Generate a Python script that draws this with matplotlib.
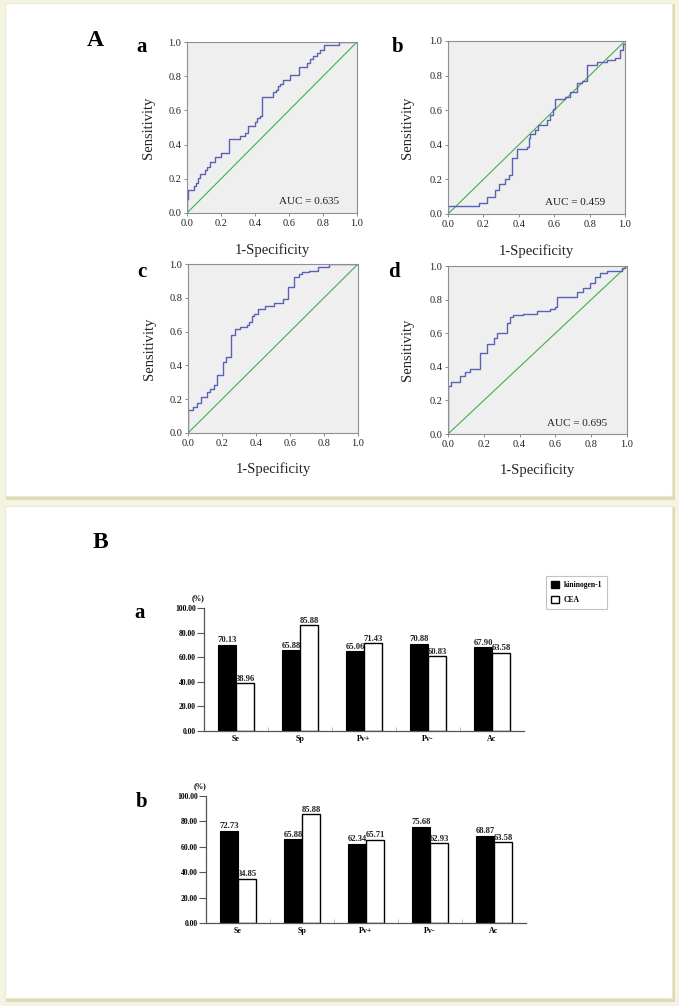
import matplotlib
matplotlib.use('Agg')
import matplotlib.pyplot as plt
from matplotlib.patches import Rectangle, Patch

plt.rcParams['font.family'] = ['Liberation Serif', 'DejaVu Serif']

# ---------------- data ----------------
roc_a_fpr = [0, 0, 0.006, 0.043, 0.055, 0.065, 0.078, 0.108, 0.118, 0.137,
             0.167, 0.2, 0.245, 0.314, 0.343, 0.359, 0.402, 0.412, 0.427, 0.443,
             0.506, 0.525, 0.535, 0.545, 0.565, 0.604, 0.657, 0.706, 0.722, 0.741,
             0.765, 0.784, 0.804, 0.892, 1.0]
roc_a_tpr = [0, 0.084, 0.137, 0.159, 0.178, 0.202, 0.227, 0.25, 0.27, 0.299,
             0.329, 0.352, 0.43, 0.452, 0.466, 0.509, 0.534, 0.558, 0.568, 0.677,
             0.705, 0.72, 0.74, 0.753, 0.779, 0.808, 0.853, 0.877, 0.9, 0.92,
             0.935, 0.955, 0.98, 1.0, 1.0]

roc_b_fpr = [0, 0, 0.173, 0.22, 0.267, 0.29, 0.323, 0.342, 0.361, 0.389,
             0.445, 0.455, 0.464, 0.489, 0.511, 0.558, 0.577, 0.596, 0.605, 0.662,
             0.69, 0.727, 0.756, 0.784, 0.84, 0.897, 0.944, 0.97, 0.99, 1.0]
roc_b_tpr = [0, 0.048, 0.062, 0.1, 0.14, 0.173, 0.2, 0.227, 0.321, 0.375,
             0.39, 0.438, 0.465, 0.485, 0.513, 0.542, 0.571, 0.608, 0.662, 0.679,
             0.708, 0.756, 0.77, 0.862, 0.879, 0.888, 0.9, 0.95, 0.98, 1.0]

roc_c_fpr = [0, 0, 0.029, 0.053, 0.078, 0.111, 0.131, 0.15, 0.172, 0.205,
             0.225, 0.25, 0.279, 0.303, 0.346, 0.361, 0.377, 0.391, 0.41, 0.455,
             0.508, 0.561, 0.588, 0.621, 0.65, 0.67, 0.713, 0.762, 0.83, 1.0]
roc_c_tpr = [0, 0.138, 0.154, 0.18, 0.213, 0.243, 0.263, 0.283, 0.346, 0.421,
             0.447, 0.579, 0.613, 0.625, 0.638, 0.658, 0.692, 0.704, 0.731, 0.751,
             0.771, 0.79, 0.862, 0.921, 0.941, 0.95, 0.96, 0.98, 1.0, 1.0]

roc_d_fpr = [0, 0, 0.019, 0.065, 0.093, 0.125, 0.178, 0.219, 0.258, 0.271,
             0.327, 0.346, 0.361, 0.42, 0.495, 0.57, 0.598, 0.607, 0.72, 0.753,
             0.791, 0.822, 0.85, 0.888, 0.972, 0.99, 1.0]
roc_d_tpr = [0, 0.288, 0.312, 0.345, 0.371, 0.387, 0.48, 0.536, 0.573, 0.6,
             0.659, 0.698, 0.706, 0.712, 0.732, 0.742, 0.758, 0.813, 0.843, 0.867,
             0.897, 0.937, 0.956, 0.972, 0.986, 1.0, 1.0]

auc_labels = {'a': 'AUC = 0.635', 'b': 'AUC = 0.459', 'c': None, 'd': 'AUC = 0.695'}
diag = [0, 1]
roc_ticks = [0.0, 0.2, 0.4, 0.6, 0.8, 1.0]

categories = ['Se', 'Sp', 'Pv+', 'Pv-', 'Ac']
kin_a = [70.13, 65.88, 65.06, 70.88, 67.90]
cea_a = [38.96, 85.88, 71.43, 60.83, 63.58]
kin_b = [72.73, 65.88, 62.34, 75.68, 68.87]
cea_b = [34.85, 85.88, 65.71, 62.93, 63.58]
bar_yticks = [0, 20, 40, 60, 80, 100]
series_names = ['kininogen-1', 'CEA']

# ---------------- figure ----------------
W, H = 679, 1006
fig = plt.figure(figsize=(W / 100, H / 100), dpi=100)
fig.patch.set_facecolor('#f5f3e1')


def fx(px):
    return px / W


def fy(py):
    return 1 - py / H


def rect_px(x0, y0, x1, y1, **kw):
    r = Rectangle((fx(x0), fy(y1)), (x1 - x0) / W, (y1 - y0) / H,
                  transform=fig.transFigure, **kw)
    fig.add_artist(r)


# panel frames (white cards with soft shadow)
for (x0, y0, x1, y1) in [(5, 3, 672, 496), (5, 506, 672, 998)]:
    rect_px(x0 + 1, y0 + 1, x1 + 3, y1 + 4, facecolor='#dddab9', edgecolor='none', zorder=-3)
    rect_px(x0, y0, x1, y1, facecolor='white', edgecolor='#ebe9d2', lw=0.8, zorder=-2)


def axes_px(l, t, r, b):
    return fig.add_axes([fx(l), fy(b), (r - l) / W, (b - t) / H])


roc_specs = [
    ('a', roc_a_fpr, roc_a_tpr, (187, 42, 357, 213)),
    ('b', roc_b_fpr, roc_b_tpr, (448, 41, 625, 214)),
    ('c', roc_c_fpr, roc_c_tpr, (188, 264, 358, 433)),
    ('d', roc_d_fpr, roc_d_tpr, (448, 266, 627, 434)),
]

for key, fpr, tpr, box in roc_specs:
    ax = axes_px(*box)
    ax.set_facecolor('#efefef')
    ax.plot(diag, diag, color='#3db24d', lw=0.8)
    ax.plot(fpr, tpr, drawstyle='steps-post', color='#5a63b3', lw=1.0)
    ax.set_xlim(0, 1)
    ax.set_ylim(0, 1)
    ax.set_xticks(roc_ticks)
    ax.set_yticks(roc_ticks)
    ax.set_xticklabels(['%.1f' % t for t in roc_ticks])
    ax.set_yticklabels(['%.1f' % t for t in roc_ticks])
    ax.tick_params(labelsize=7.5, length=2.5, width=0.6, color='#777777',
                   pad=1.5, labelcolor='#222222')
    for s in ax.spines.values():
        s.set_color('#8f8f8f')
        s.set_linewidth(0.8)
    ax.set_ylabel('Sensitivity', fontsize=10.5, color='#222222')
    ax.set_xlabel('1-Specificity', fontsize=10.5, color='#222222')
    ax.yaxis.set_label_coords(-0.19, 0.5)
    ax.xaxis.set_label_coords(0.5, -0.175)
    if auc_labels[key]:
        ax.text(0.72, 0.065, auc_labels[key], transform=ax.transAxes,
                ha='center', va='center', fontsize=8, color='#222222')

# panel letters
fig.text(fx(95), fy(40), 'A', fontsize=17, fontweight='bold', ha='center', va='center')
for lbl, (px, py) in {'a': (142, 47), 'b': (398, 47), 'c': (142, 272), 'd': (394, 272)}.items():
    fig.text(fx(px), fy(py), lbl, fontsize=15, fontweight='bold', ha='center', va='center')
fig.text(fx(100), fy(543), 'B', fontsize=17, fontweight='bold', ha='center', va='center')

# ---------------- bar charts ----------------
bar_specs = [
    ('a', kin_a, cea_a, (204, 608, 524, 731), (140, 613)),
    ('b', kin_b, cea_b, (206, 796, 526, 923), (142, 802)),
]
bw = 0.28
xpos = list(range(len(categories)))
for key, kin, cea, box, lpos in bar_specs:
    ax = axes_px(*box)
    ax.set_facecolor('none')
    b1 = ax.bar([x - bw / 2 for x in xpos], kin, width=bw, color='black',
                edgecolor='black', lw=0.8)
    b2 = ax.bar([x + bw / 2 for x in xpos], cea, width=bw, color='white',
                edgecolor='black', lw=1.0)
    for bars in (b1, b2):
        ax.bar_label(bars, fmt='%.2f', padding=0.3, fontsize=6.2,
                     fontweight='bold', color='#222222')
    ax.set_xlim(-0.5, 4.5)
    ax.set_ylim(0, 100)
    ax.set_yticks(bar_yticks)
    ax.set_yticklabels(['%.2f' % v for v in bar_yticks], fontsize=5.5, fontweight='bold')
    ax.set_xticks(xpos)
    ax.set_xticklabels(categories, fontsize=5.8, fontweight='bold')
    ax.set_xticks([x + 0.5 for x in xpos[:-1]], minor=True)
    ax.tick_params(axis='x', which='major', length=0, pad=3)
    ax.tick_params(axis='x', which='minor', direction='in', length=3, width=0.6,
                   color='#aaaaaa')
    ax.tick_params(axis='y', length=5, width=0.8, color='#555555', pad=1)
    for s in ('top', 'right'):
        ax.spines[s].set_visible(False)
    for s in ('left', 'bottom'):
        ax.spines[s].set_color('#555555')
        ax.spines[s].set_linewidth(0.9)
    ax.text(-0.02, 1.08, '(%)', transform=ax.transAxes, fontsize=5.5,
            fontweight='bold', ha='center', va='center')
    fig.text(fx(lpos[0]), fy(lpos[1]), key, fontsize=15, fontweight='bold',
             ha='center', va='center')

handles = [Patch(facecolor='black', edgecolor='black'),
           Patch(facecolor='white', edgecolor='black')]
leg = fig.legend(handles, series_names, loc='upper left',
                 bbox_to_anchor=(fx(542), fy(572)),
                 prop={'weight': 'bold', 'size': 5.5}, frameon=True,
                 fancybox=False, edgecolor='#b5b5b5', handlelength=1.0,
                 handleheight=1.0, borderpad=0.7, labelspacing=0.9,
                 handletextpad=0.6)
leg.get_frame().set_linewidth(0.8)

fig.savefig('out.png', dpi=100, facecolor=fig.get_facecolor())
